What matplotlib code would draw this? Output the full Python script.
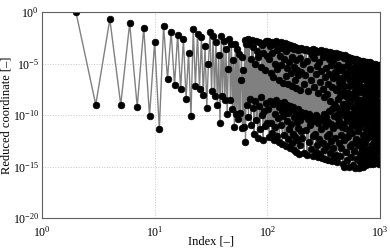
import numpy as np
import matplotlib
matplotlib.use("Agg")
import matplotlib.pyplot as plt
from matplotlib.ticker import FixedLocator

plt.rcParams['font.family'] = ['Liberation Serif', 'DejaVu Serif']
plt.rcParams['mathtext.fontset'] = 'custom'
plt.rcParams['mathtext.rm'] = 'Liberation Serif'
plt.rcParams['mathtext.it'] = 'Liberation Serif:italic'
plt.rcParams['mathtext.bf'] = 'Liberation Serif:bold'

# ---- data: log10 of reduced coordinate ----
idx_a = np.arange(2, 101)          # every index 2..100
exp_a = [0.0, -9.0, -0.7, -9.0, -1.1, -9.2, -1.55, -10.1, -2.9, -11.4,
         -1.35, -6.5, -1.9, -7.1, -2.2, -7.5, -2.65, -8.4, -3.95, -10.1,
         -1.65, -7.2, -2.1, -7.5, -2.45, -8.05, -3.3, -9.3, -5.0, -1.95,
         -7.7, -2.3, -8.2, -2.9, -9.0, -4.2, -10.8, -2.3, -8.2, -2.8,
         -8.5, -3.6, -9.9, -5.5, -2.65, -8.5, -3.1, -9.4, -4.7, -11.2,
         -3.1, -9.9, -3.6, -10.4, -4.1, -9.8, -6.6, -4.4, -11.3,
         -5.6, -11.2, -2.7, -12.6, -3.1, -9.0, -2.6, -10.2, -3.1, -8.4,
         -4.6, -11.0, -2.7, -9.3, -3.4, -11.8, -5.0, -8.6, -2.8, -10.5,
         -3.8, -12.2, -4.4, -9.1, -2.9, -11.4, -5.3, -8.3, -3.2, -10.0,
         -4.0, -12.4, -3.0, -9.6, -5.6, -11.1, -2.8, -8.8, -4.3, -10.8]

idx_b = np.arange(101, 201)        # every index 101..200
exp_b = [-2.8, -9.4, -4.6, -12.1, -3.3, -8.6, -5.9, -10.8, -2.9, -11.7,
         -4.0, -8.9, -6.3, -12.4, -3.1, -9.9, -5.0, -11.2, -2.8, -8.5,
         -3.7, -12.0, -5.5, -10.3, -3.0, -9.2, -6.6, -12.6, -4.3, -8.8,
         -2.9, -11.0, -5.1, -9.6, -3.5, -12.8, -6.9, -10.1, -3.1, -8.7,
         -4.6, -11.9, -3.0, -9.3, -6.2, -13.0, -3.8, -10.6, -5.4, -9.0,
         -3.1, -12.3, -7.0, -9.8, -3.4, -11.4, -4.9, -13.2, -3.2, -9.1,
         -5.9, -10.9, -3.5, -12.7, -4.4, -9.5, -7.2, -11.8, -3.3, -9.2,
         -5.3, -13.4, -3.6, -10.2, -6.6, -12.1, -3.4, -9.7, -4.7, -13.6,
         -7.4, -10.7, -3.5, -12.4, -5.6, -9.4, -3.7, -11.3, -6.1, -13.8,
         -3.6, -9.9, -4.5, -12.9, -7.6, -10.5, -3.5, -11.6, -5.8, -9.7]

idx_c = np.arange(202, 401, 2)     # every 2nd index 202..400
exp_c = [-3.6, -12.2, -5.0, -10.1, -7.0, -13.7, -3.7, -9.8, -6.1, -11.5,
         -3.6, -13.9, -4.8, -10.4, -7.7, -12.6, -3.8, -9.9, -5.5, -11.0,
         -3.7, -13.3, -6.6, -10.2, -4.2, -12.0, -3.6, -14.0, -7.3, -10.6,
         -4.5, -11.8, -3.7, -13.6, -6.0, -10.0, -3.9, -12.9, -5.2, -14.1,
         -7.9, -10.8, -3.8, -12.3, -4.9, -10.3, -6.8, -13.8, -3.7, -11.4,
         -5.7, -14.2, -3.9, -10.5, -7.5, -12.7, -4.4, -9.9, -8.3, -13.4,
         -3.8, -11.1, -6.3, -14.3, -4.0, -10.2, -5.4, -12.0, -8.0, -13.0,
         -3.9, -10.7, -7.0, -14.4, -4.6, -9.6, -6.0, -11.8, -3.9, -13.7,
         -8.6, -10.9, -4.3, -12.5, -5.1, -14.5, -7.3, -9.4, -4.0, -11.3,
         -6.4, -13.2, -4.7, -10.1, -8.9, -14.1, -4.1, -12.2, -5.8, -9.2]

idx_d = np.arange(403, 1001, 3)    # every 3rd index 403..1000
exp_d = [-4.0, -13.9, -6.2, -11.0, -4.4, -14.6, -7.4, -9.9, -5.1, -12.7,
         -4.1, -10.6, -8.2, -14.0, -5.6, -11.9, -4.3, -13.2, -6.8, -9.4,
         -4.2, -14.8, -5.3, -10.9, -7.8, -12.4, -4.5, -15.0, -6.1, -11.3,
         -4.2, -9.6, -5.9, -13.6, -4.6, -10.4, -8.8, -14.4, -5.0, -12.0,
         -4.4, -11.5, -6.5, -15.0, -7.2, -10.0, -4.5, -13.0, -5.4, -9.1,
         -4.5, -14.1, -6.9, -11.7, -4.7, -12.8, -8.0, -10.3, -5.8, -14.9,
         -4.6, -9.8, -6.3, -13.5, -4.8, -11.1, -7.6, -15.1, -5.2, -12.3,
         -4.6, -10.7, -8.4, -14.3, -5.6, -9.3, -4.7, -12.9, -6.7, -11.6,
         -4.7, -15.1, -5.1, -10.1, -7.1, -13.8, -4.9, -11.0, -6.0, -14.6,
         -4.8, -9.7, -8.7, -12.5, -5.4, -14.0, -4.9, -10.5, -6.5, -13.1,
         -4.8, -11.9, -5.7, -15.0, -7.9, -9.5, -4.9, -12.7, -6.2, -14.5,
         -5.0, -10.8, -7.3, -13.6, -4.9, -11.4, -5.5, -14.9, -8.2, -10.0,
         -4.9, -12.2, -6.8, -13.9, -5.2, -9.2, -7.5, -14.7, -5.0, -11.7,
         -5.0, -10.3, -5.9, -13.3, -8.6, -12.0, -4.9, -14.8, -6.4, -9.9,
         -5.1, -11.1, -7.0, -14.2, -5.3, -10.6, -5.0, -12.9, -8.1, -14.6,
         -5.0, -9.6, -6.1, -13.5, -5.2, -11.5, -7.7, -14.8, -5.1, -10.2,
         -5.6, -12.6, -5.1, -14.4, -6.9, -9.4, -5.0, -11.9, -8.4, -13.8,
         -5.1, -10.9, -6.3, -14.7, -5.2, -12.3, -7.4, -9.8, -5.1, -13.2,
         -5.5, -11.3, -5.1, -14.5, -8.0, -10.4, -5.2, -12.8, -6.6, -14.8,
         -5.1, -9.5, -7.1, -13.6, -5.2, -11.8, -5.9, -14.3, -5.1, -5.1]

idx_e = np.arange(404, 1001, 6)    # further indices 404..998 (mid band)
exp_e = [-7.6, -9.2, -5.4, -8.4, -10.3, -6.8, -9.6, -4.3, -8.0, -11.2,
         -6.4, -8.9, -10.0, -7.2, -4.4, -9.4, -8.2, -12.1, -6.0, -9.0,
         -7.9, -10.6, -5.2, -8.6, -9.9, -6.6, -11.0, -4.6, -8.3, -7.0,
         -9.3, -5.9, -10.4, -8.0, -6.9, -12.4, -4.8, -8.7, -9.7, -7.5,
         -6.2, -9.1, -11.3, -7.8, -5.5, -8.5, -10.1, -13.4, -7.3, -9.5,
         -8.8, -6.4, -10.8, -4.9, -7.7, -9.2, -12.7, -5.8, -8.1, -10.5,
         -7.1, -9.8, -5.3, -8.5, -11.6, -6.7, -9.0, -13.9, -7.9, -10.2,
         -6.0, -8.4, -9.5, -12.0, -5.6, -7.4, -10.8, -8.9, -6.5, -14.2,
         -9.2, -7.0, -11.1, -5.4, -8.2, -9.9, -6.3, -13.0, -7.7, -10.6,
         -8.6, -5.7, -9.4, -12.4, -6.9, -10.0, -7.5, -5.3, -8.8, -11.5]

x_ticks = [1e0, 1e1, 1e2, 1e3]
y_ticks = [1e-20, 1e-15, 1e-10, 1e-5, 1e0]
x_label = "Index [–]"
y_label = "Reduced coordinate [–]"

index = np.concatenate([idx_a, idx_b, idx_c, idx_d, idx_e])
values = 10.0 ** np.concatenate([exp_a, exp_b, exp_c, exp_d, exp_e])
order = np.argsort(index, kind='stable')
index, values = index[order], values[order]

fig = plt.figure(figsize=(3.9, 2.48), dpi=100)
ax = fig.add_axes([42/390, 1-218/248, (380-42)/390, (218-12)/248])
ax.plot(index, values, '-', color='#808080', lw=1.0,
        marker='o', ms=4.8, mfc='black', mec='black', mew=0.5)
ax.set_xscale('log')
ax.set_yscale('log')
ax.set_xlim(1, 1000)
ax.set_ylim(1e-20, 1)
ax.xaxis.set_major_locator(FixedLocator(x_ticks))
ax.yaxis.set_major_locator(FixedLocator(y_ticks))
ax.minorticks_off()
ax.grid(True, which='major', color='#c8c8c8', linestyle=':', linewidth=0.7)
ax.tick_params(length=0, labelsize=8.5)
ax.tick_params(axis='y', pad=2)
ax.tick_params(axis='x', pad=5)
for s in ax.spines.values():
    s.set_color('#606060')
    s.set_linewidth(0.8)
ax.set_xlabel(x_label, fontsize=9)
ax.xaxis.set_label_coords(0.5, -(236 - 218) / 206)
ax.set_ylabel(y_label, fontsize=9)
ax.yaxis.set_label_coords((13 - 42) / 338, 0.5)
fig.savefig('out.png', dpi=100)
